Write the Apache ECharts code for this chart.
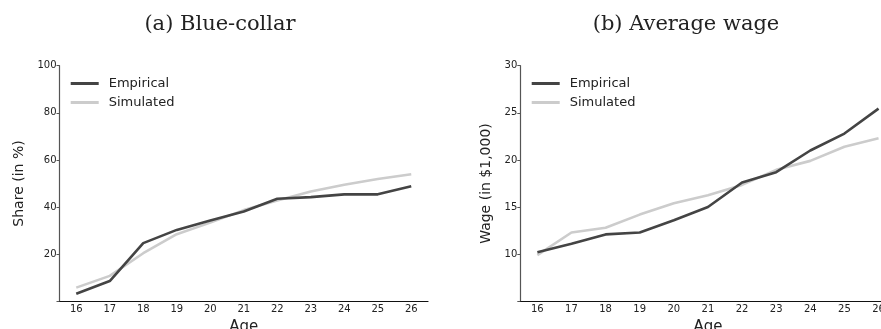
<!DOCTYPE html>
<html>
<head>
<meta charset="utf-8">
<script src="https://cdn.jsdelivr.net/npm/echarts@6/dist/echarts.min.js"></script>
<style>
  html, body { margin: 0; padding: 0; background: #fff; }
  #chart { width: 881px; height: 329px; }
</style>
</head>
<body>
<div id="chart"></div>
<script>
// Ages on the horizontal axis of both panels
const ages = ['16', '17', '18', '19', '20', '21', '22', '23', '24', '25', '26'];

// Panel (a): share of blue-collar workers, in percent
const blueEmpirical = [3.2, 8.6, 24.7, 30.3, 34.3, 38.1, 43.5, 44.2, 45.4, 45.4, 48.8];
const blueSimulated = [5.8, 10.8, 20.4, 28.5, 33.4, 38.7, 42.8, 46.6, 49.5, 51.9, 53.9];

// Panel (b): average wage, in thousands of dollars
const wageEmpirical = [10.2, 11.1, 12.1, 12.3, 13.6, 15.0, 17.6, 18.7, 21.0, 22.8, 25.45];
const wageSimulated = [9.9, 12.3, 12.8, 14.2, 15.4, 16.25, 17.35, 18.95, 19.9, 21.4, 22.3];

const EMP_COLOR = '#444444';
const SIM_COLOR = '#cccccc';
const TEXT = '#222222';
const sans = 'DejaVu Sans';

function xAxisFor(gridIndex) {
  return {
    type: 'category',
    gridIndex,
    data: ages,
    boundaryGap: true,
    name: 'Age',
    nameLocation: 'middle',
    nameGap: 14,
    nameTextStyle: { fontFamily: sans, fontSize: 15, color: TEXT },
    axisLine: { lineStyle: { color: '#111', width: 1.2 } },
    axisTick: { show: false },
    axisLabel: { fontFamily: sans, fontSize: 10, color: TEXT, margin: 3, interval: 0 },
    splitLine: { show: false }
  };
}

function yAxisFor(gridIndex, min, max, step, name, gap) {
  return {
    type: 'value',
    gridIndex,
    min, max, interval: step,
    name,
    nameLocation: 'middle',
    nameGap: gap,
    nameTextStyle: { fontFamily: sans, fontSize: 14, color: TEXT },
    axisLine: { show: true, lineStyle: { color: '#555', width: 1.2 } },
    axisTick: { show: true, length: 3, lineStyle: { color: '#555' } },
    axisLabel: {
      fontFamily: sans, fontSize: 10, color: TEXT, margin: 3,
      formatter: v => (v === min ? '' : String(v))
    },
    splitLine: { show: false }
  };
}

function lineSeries(name, data, color, axisIndex) {
  return {
    name, type: 'line', data,
    xAxisIndex: axisIndex, yAxisIndex: axisIndex,
    symbol: 'none', smooth: false,
    lineStyle: { color, width: 2.6 },
    itemStyle: { color },
    z: name === 'Empirical' ? 3 : 2
  };
}

function legendAt(left) {
  return {
    orient: 'vertical', left, top: 77, padding: 0,
    itemWidth: 28, itemHeight: 3, itemGap: 6,
    icon: 'rect',
    textStyle: { fontFamily: sans, fontSize: 13, color: TEXT, padding: [0, 0, 0, 5] },
    data: ['Empirical', 'Simulated']
  };
}

const chart = echarts.init(document.getElementById('chart'), null, { renderer: 'canvas' });
chart.setOption({
  animation: false,
  backgroundColor: '#fff',
  title: [
    { text: '(a) Blue-collar', left: 215, top: 9, textAlign: 'center',
      textStyle: { fontFamily: 'DejaVu Serif', fontSize: 21, fontWeight: 'normal', color: TEXT } },
    { text: '(b) Average wage', left: 681, top: 9, textAlign: 'center',
      textStyle: { fontFamily: 'DejaVu Serif', fontSize: 21, fontWeight: 'normal', color: TEXT } }
  ],
  legend: [legendAt(70.7), legendAt(531.7)],
  grid: [
    { left: 59.5, top: 65.7, width: 368.5, height: 235.6, outerBoundsMode: 'none' },
    { left: 520.3, top: 65.7, width: 375.3, height: 235.6, outerBoundsMode: 'none' }
  ],
  xAxis: [xAxisFor(0), xAxisFor(1)],
  yAxis: [
    yAxisFor(0, 0, 100, 20, 'Share (in %)', 33),
    yAxisFor(1, 5, 30, 5, 'Wage (in $1,000)', 27)
  ],
  series: [
    lineSeries('Empirical', blueEmpirical, EMP_COLOR, 0),
    lineSeries('Simulated', blueSimulated, SIM_COLOR, 0),
    lineSeries('Empirical', wageEmpirical, EMP_COLOR, 1),
    lineSeries('Simulated', wageSimulated, SIM_COLOR, 1)
  ]
});
</script>
</body>
</html>
